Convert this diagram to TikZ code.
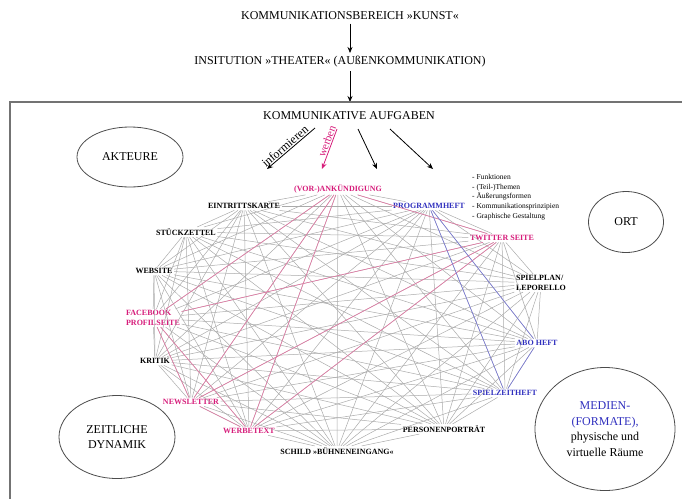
\documentclass[tikz,border=0pt]{standalone}
\usepackage{fontspec}
\setmainfont{Liberation Serif}
\usetikzlibrary{shapes.geometric,arrows.meta}
\definecolor{cmag}{RGB}{214,28,122}
\definecolor{cblu}{RGB}{48,48,190}
\definecolor{cpink}{RGB}{228,120,165}
\definecolor{cviol}{RGB}{120,120,215}
\tikzset{komm/.style={x=1pt,y=-1pt,font=\fontsize{12}{15.5}\selectfont},
  medium/.style={font=\fontsize{8}{9.5}\selectfont\bfseries,inner sep=1.5pt},
  feld/.style={draw=black!70,ellipse,inner sep=0pt,align=center,thick},
  pfeil/.style={-{Stealth[length=6pt,width=5pt]},thick},
  netz/.style={black!33,line width=0.5pt}}

\begin{document}
\begin{tikzpicture}[komm]
    \useasboundingbox (0,0) rectangle (682,499);
    \node (bereich) at (350,16) {KOMMUNIKATIONSBEREICH »KUNST«};
    \node (institution) at (340,62) {INSITUTION »THEATER« (AUßENKOMMUNIKATION)};
    \coordinate (rahmen) at (350,102);
    \draw[pfeil] (bereich.south -| rahmen) -- (rahmen |- institution.north);
    \draw[pfeil] (institution.south -| rahmen) -- (rahmen);
    \draw[black!55,line width=1.2pt] (682,102) -- (10,102) -- (10,499);
    \node (aufgaben) at (349,116) {KOMMUNIKATIVE AUFGABEN};
    \coordinate (a1) at (315,128); \coordinate (z1) at (267,169);
    \coordinate (a2) at (337,129); \coordinate (z2) at (322,169);
    \coordinate (a3) at (358,129); \coordinate (z3) at (377,169);
    \coordinate (a4) at (390,129); \coordinate (z4) at (433,169);
    \draw[pfeil] (a1) -- (z1) node[pos=0.55,sloped,above,inner sep=1pt] {informieren};
    \draw[pfeil,cmag] (a2) -- (z2) node[pos=0.35,sloped,above,inner sep=1pt,font=\fontsize{11}{12}\selectfont] {werben};
    \draw[pfeil] (a3) -- (z3);
    \draw[pfeil] (a4) -- (z4);
    \node[feld,minimum width=106pt,minimum height=60pt] (akteure) at (130,157) {AKTEURE};
    \node[feld,minimum width=75pt,minimum height=61pt] (ort) at (626,222) {ORT};
    \node[feld,minimum width=116pt,minimum height=83pt] (zeit) at (117,437) {ZEITLICHE\\DYNAMIK};
    \node[feld,minimum width=140pt,minimum height=123pt] (formate) at (605,429)
      {\textcolor{cblu}{MEDIEN-}\\\textcolor{cblu}{(FORMATE),}\\physische und\\virtuelle Räume};
    \node[medium,cmag] (ank) at (338,189) {(VOR-)ANKÜNDIGUNG};
    \node[medium,cblu] (prg) at (429,206) {PROGRAMMHEFT};
    \node[medium,cmag] (twi) at (502,238) {TWITTER SEITE};
    \node[medium,align=left] (spl) at (541,283) {SPIELPLAN/\\LEPORELLO};
    \node[medium,cblu] (abo) at (537,343) {ABO HEFT};
    \node[medium,cblu] (spz) at (505,393) {SPIELZEITHEFT};
    \node[medium] (per) at (444,429) {PERSONENPORTRÄT};
    \node[medium] (sch) at (337,451) {SCHILD »BÜHNENEINGANG«};
    \node[medium,cmag] (wer) at (249,431) {WERBETEXT};
    \node[medium,cmag] (new) at (191,402) {NEWSLETTER};
    \node[medium] (kri) at (155,361) {KRITIK};
    \node[medium,cmag,align=left] (fac) at (153,318) {FACEBOOK\\PROFILSEITE};
    \node[medium] (web) at (154,271) {WEBSITE};
    \node[medium] (stu) at (186,232) {STÜCKZETTEL};
    \node[medium] (ein) at (244,206) {EINTRITTSKARTE};
    \node[anchor=north west,align=left,inner sep=0pt,font=\fontsize{7.5}{9.7}\selectfont] (aspekte) at (472,174)
      {- Funktionen\\- (Teil-)Themen\\- Äußerungsformen\\- Kommunikationsprinzipien\\- Graphische Gestaltung};
    \def\medien{ank,prg,twi,spl,abo,spz,per,sch,wer,new,kri,fac,web,stu,ein}
    \foreach \a [count=\i] in \medien
      \foreach \b [count=\j] in \medien {
        \ifnum\j>\i \draw[netz] (\a) -- (\b); \fi
      }
    \foreach \a/\b in {ank/twi,ank/fac,ank/new,ank/wer,twi/fac,twi/new,twi/wer,fac/new,fac/wer,new/wer}
      \draw[cpink,line width=0.6pt] (\a) -- (\b);
    \foreach \a/\b in {prg/abo,prg/spz,abo/spz}
      \draw[cviol,line width=0.6pt] (\a) -- (\b);
  \end{tikzpicture}
\end{document}
